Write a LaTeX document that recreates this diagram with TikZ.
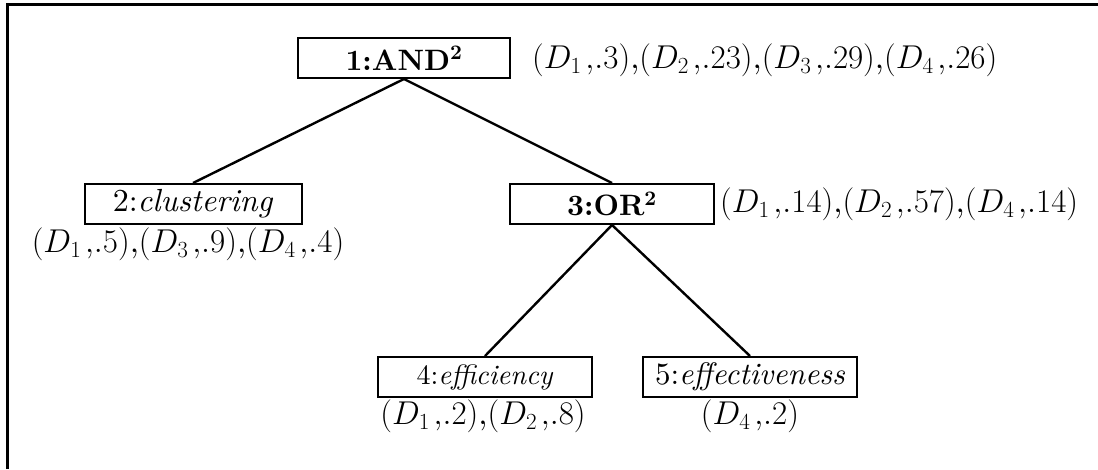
\documentclass[tikz,border=0pt]{standalone}
\RequirePackage{fix-cm}
\usepackage{amsmath}
\usepackage{fontspec}
\setmainfont{lmroman10-regular.otf}[
  BoldFont=lmroman10-bold.otf,
  ItalicFont=lmroman10-italic.otf,
  BoldItalicFont=lmroman10-bolditalic.otf]
\newcommand{\wt}[2]{(D_{#1}\mkern2mu{,}#2)}
\newcommand{\fs}[1]{\fontsize{#1}{36}\selectfont}
\begin{document}
\begin{tikzpicture}[x=1pt,y=-1pt,
  frameline/.style={line width=3pt},
  edge/.style={line width=2.4pt},
  treebox/.style={draw, line width=2pt, minimum height=40pt, inner sep=0pt,
    font=\fs{29.5}},
  weights/.style={inner sep=0pt, font=\fontsize{33}{40}\selectfont}]
\useasboundingbox (0,0) rectangle (1098,469);
% open frame: only the top and left rules
\coordinate (fbl) at (7,469);
\coordinate (ftl) at (7,4);
\coordinate (ftr) at (1098,4);
\draw[frameline] (fbl) -- (ftl) -- (ftr);

% tree nodes
\node[treebox, minimum width=212pt] (n1) at (404,58) {\textbf{1:AND}$^{\mathbf{2}}$};
\node[treebox, minimum width=217pt, font=\fs{32}] (n2) at (193,204) {2:\textit{clustering}};
\node[treebox, minimum width=204pt] (n3) at (612,204) {\textbf{3:OR}$^{\mathbf{2}}$};
\node[treebox, minimum width=214pt, font=\fs{28}] (n4) at (485,377) {4:\textit{efficiency}};
\node[treebox, minimum width=214pt, font=\fs{31}] (n5) at (750,377) {5:\textit{effectiveness}};

% weight lists
\node[weights, anchor=west] (w1) at (532,60) {$\wt{1}{.3}$,$\wt{2}{.23}$,$\wt{3}{.29}$,$\wt{4}{.26}$};
\node[weights, anchor=north] (w2) at (188,228) {$\wt{1}{.5}$,$\wt{3}{.9}$,$\wt{4}{.4}$};
\node[weights, anchor=west] (w3) at (720,204) {$\wt{1}{.14}$,$\wt{2}{.57}$,$\wt{4}{.14}$};
\node[weights, anchor=north] (w4) at (483,400) {$\wt{1}{.2}$,$\wt{2}{.8}$};
\node[weights, anchor=north] (w5) at (750,400) {$\wt{4}{.2}$};

% connectors
\draw[edge] (n1.south) -- (n2.north);
\draw[edge] (n1.south) -- (n3.north);
\draw[edge] (n3.south) -- (n4.north);
\draw[edge] (n3.south) -- (n5.north);
\end{tikzpicture}
\end{document}
